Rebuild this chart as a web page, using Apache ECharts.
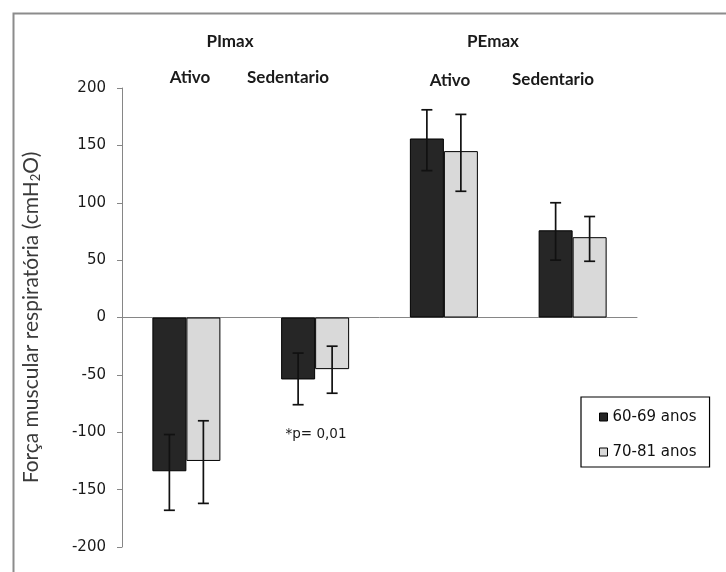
<!DOCTYPE html>
<html>
<head>
<meta charset="utf-8">
<script src="https://cdn.jsdelivr.net/npm/echarts@6/dist/echarts.min.js"></script>
<style>
html,body{margin:0;padding:0;background:#fff;}
#chart{width:726px;height:572px;}
</style>
</head>
<body>
<div id="chart"></div>
<script>
// Data
var categories = ['PImax Ativo', 'PImax Sedentario', 'PEmax Ativo', 'PEmax Sedentario'];
var seriesNames = ['60-69 anos', '70-81 anos'];
var values6069 = [-134, -54, 156, 76];
var values7081 = [-125, -45, 145, 70];
var errLow6069 = [-168, -76, 128, 50];
var errHigh6069 = [-102, -31, 181, 100];
var errLow7081 = [-162, -66, 110, 49];
var errHigh7081 = [-90, -25, 177, 88];
var yTicks = [-200, -150, -100, -50, 0, 50, 100, 150, 200];
var groupLabels = ['PImax', 'PEmax'];
var subLabels = ['Ativo', 'Sedentario', 'Ativo', 'Sedentario'];
var pNote = '*p= 0,01';

var BAR_W = 34;
var chart = echarts.init(document.getElementById('chart'));

function errData(lo, hi) {
  return lo.map(function (v, i) { return [i, v, hi[i]]; });
}
function errRender(offset) {
  return function (params, api) {
    var x = api.value(0), lo = api.value(1), hi = api.value(2);
    var p1 = api.coord([x, lo]), p2 = api.coord([x, hi]);
    var cx = p1[0] + offset, cap = 5.5;
    var st = { stroke: '#111', lineWidth: 1.7 };
    return {
      type: 'group',
      children: [
        { type: 'line', shape: { x1: cx, y1: p1[1], x2: cx, y2: p2[1] }, style: st },
        { type: 'line', shape: { x1: cx - cap, y1: p1[1], x2: cx + cap, y2: p1[1] }, style: st },
        { type: 'line', shape: { x1: cx - cap, y1: p2[1], x2: cx + cap, y2: p2[1] }, style: st }
      ]
    };
  };
}

var BOLD = 'bold 17px Lato';
function label(s, x, y, font) {
  return { type: 'text', x: x, y: y, silent: true,
    style: { text: s, align: 'center', verticalAlign: 'middle', font: font || BOLD, fill: '#1a1a1a' } };
}

var option = {
  animation: false,
  backgroundColor: '#fff',
  grid: { left: 122, top: 88, right: 89, bottom: 25, containLabel: false },
  xAxis: {
    type: 'category',
    data: categories,
    axisLine: { onZero: true, lineStyle: { color: '#868686', width: 1 } },
    axisTick: { show: false },
    axisLabel: { show: false },
    splitLine: { show: false }
  },
  yAxis: {
    type: 'value',
    min: yTicks[0],
    max: yTicks[yTicks.length - 1],
    interval: 50,
    name: 'Força muscular respiratória (cmH{sub|2}O)',
    nameLocation: 'middle',
    nameGap: 80,
    nameTextStyle: {
      fontFamily: 'Lato', fontSize: 21, color: '#3a3a3a',
      rich: { sub: { fontSize: 13, verticalAlign: 'bottom', padding: [8, 0, 0, 0], fontFamily: 'Lato', color: '#3a3a3a' } }
    },
    axisLine: { show: true, lineStyle: { color: '#868686', width: 1 } },
    axisTick: { show: true, inside: false, length: 5, lineStyle: { color: '#868686' } },
    axisLabel: { fontFamily: 'DejaVu Sans', fontSize: 15, color: '#1a1a1a', margin: 16 },
    splitLine: { show: false }
  },
  legend: {
    orient: 'vertical',
    left: 581,
    top: 397,
    padding: [12, 13, 7, 18],
    itemGap: 19,
    itemWidth: 8,
    itemHeight: 8,
    itemStyle: { borderColor: '#000', borderWidth: 1 },
    borderColor: '#000',
    borderWidth: 1.2,
    icon: 'rect',
    textStyle: { fontFamily: 'DejaVu Sans', fontSize: 15, lineHeight: 16, color: '#111' },
    data: seriesNames
  },
  series: [
    {
      name: seriesNames[0], type: 'bar', data: values6069, barWidth: BAR_W, barGap: '0%',
      itemStyle: { color: '#262626', borderColor: '#000', borderWidth: 1 }
    },
    {
      name: seriesNames[1], type: 'bar', data: values7081, barWidth: BAR_W, barGap: '0%',
      itemStyle: { color: '#d9d9d9', borderColor: '#000', borderWidth: 1 }
    },
    {
      type: 'custom', name: 'err1', data: errData(errLow6069, errHigh6069),
      encode: { x: 0, y: [1, 2] }, renderItem: errRender(-BAR_W / 2), z: 10, silent: true
    },
    {
      type: 'custom', name: 'err2', data: errData(errLow7081, errHigh7081),
      encode: { x: 0, y: [1, 2] }, renderItem: errRender(BAR_W / 2), z: 10, silent: true
    }
  ],
  graphic: [
    { type: 'rect', left: 11, top: 11, silent: true, shape: { width: 740, height: 600 }, style: { fill: 'none', stroke: '#8c8c8c', lineWidth: 2 } },
    label(groupLabels[0], 230, 42),
    label(groupLabels[1], 493, 42),
    label(subLabels[0], 190, 78),
    label(subLabels[1], 288, 78),
    label(subLabels[2], 450, 81),
    label(subLabels[3], 553, 80),
    label(pNote, 316, 434, '13.5px "DejaVu Sans"')
  ]
};
chart.setOption(option);
</script>
</body>
</html>
